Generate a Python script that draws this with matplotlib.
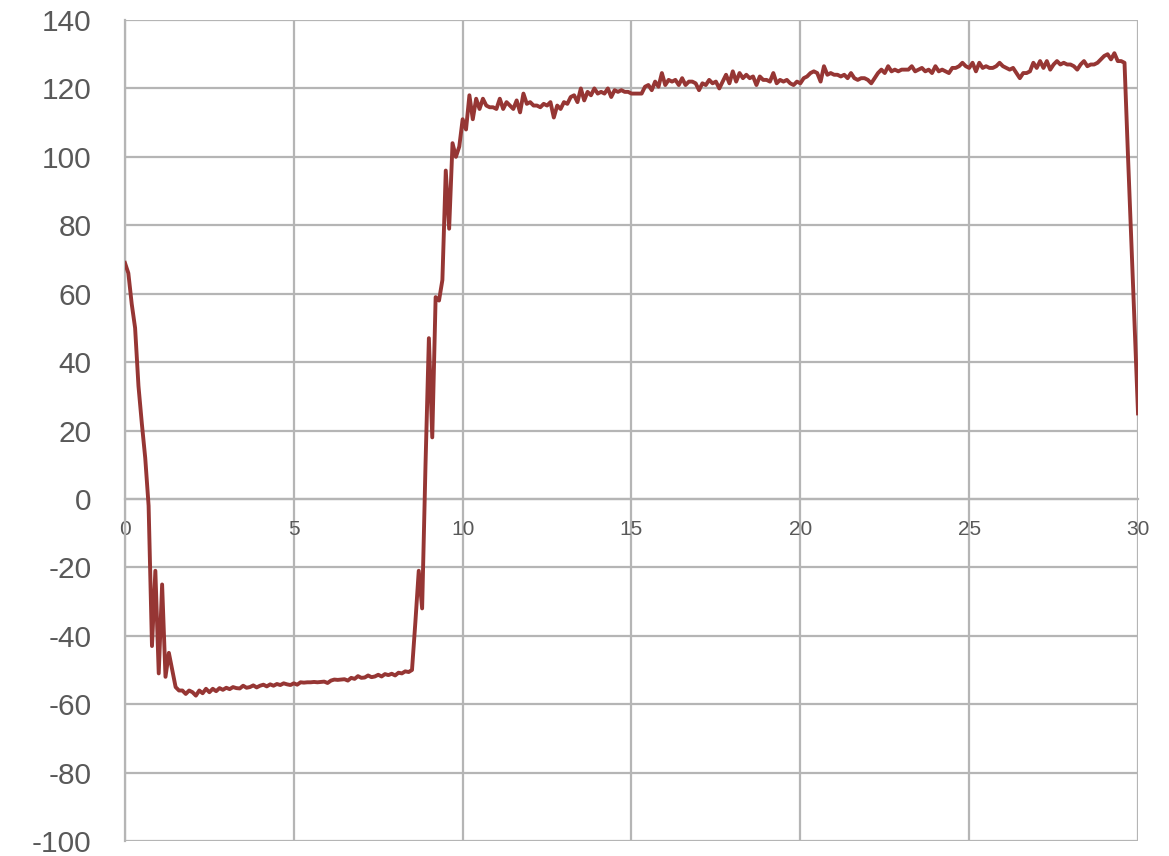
import numpy as np
import matplotlib
matplotlib.use("Agg")
import matplotlib.pyplot as plt

plt.rcParams["axes.unicode_minus"] = False

# Sampled signal, one reading every 0.1 s from 0 to 30 s
t_start, t_end, t_step = 0.0, 30.0, 0.1
signal = [
    69, 66, 57, 50, 33, 22, 12, -2, -43, -21,
    -51, -25, -52, -45, -50, -55, -56, -56, -57, -56,
    -56.5, -57.5, -56, -56.8, -55.5, -56.5, -55.5, -56.2, -55.3, -55.8,
    -55.2, -55.6, -55, -55.3, -55.4, -54.6, -55.2, -55, -54.5, -55.1,
    -54.6, -54.3, -54.8, -54.2, -54.6, -54.1, -54.4, -53.9, -54.2, -54.4,
    -53.9, -54.3, -53.6, -53.7, -53.6, -53.6, -53.5, -53.6, -53.5, -53.4,
    -53.8, -53.1, -52.8, -52.9, -52.8, -52.7, -53.1, -52.3, -52.6, -51.8,
    -52.3, -52.2, -51.6, -52.1, -51.9, -51.4, -51.9, -51.2, -51.5, -51.1,
    -51.6, -50.8, -51, -50.4, -50.6, -50, -36, -21, -32, 10,
    47, 18, 59, 58, 64, 96, 79, 104, 100, 103,
    111, 108, 118, 111, 117, 114, 117, 115, 114.5, 114.5,
    114, 117, 114, 116, 115, 114, 116.5, 113, 118.5, 115.5,
    116, 115, 115, 114.5, 115.5, 115, 116, 111.5, 115, 114,
    116, 115.5, 117.5, 118, 116, 120, 116.5, 119, 118, 120,
    118.5, 119, 118.5, 120, 117.5, 119.5, 119, 119.5, 119, 119,
    118.5, 118.5, 118.5, 118.5, 120.5, 121, 119.5, 122, 120.5, 124.5,
    121, 122.5, 122, 122.5, 121, 123, 121, 122, 122, 121.5,
    119.5, 121.5, 121, 122.5, 121.5, 122, 120, 122, 124, 121.5,
    125, 122, 124.5, 123, 124, 123, 123.5, 121, 123.5, 122.5,
    122.5, 122, 124.5, 121.5, 122.5, 122, 122.5, 121.5, 121, 122,
    121.5, 123, 123.5, 124.5, 125, 124.5, 122, 126.5, 124, 124.5,
    124, 124, 123.5, 124, 123, 124.5, 123, 122.5, 123, 123,
    122.5, 121.5, 123, 124.5, 125.5, 124.5, 126.5, 125, 125.5, 125,
    125.5, 125.5, 125.5, 126.5, 125, 125.5, 126, 125, 125.5, 124.5,
    126.5, 125, 125.5, 125, 124.5, 126, 126, 126.5, 127.5, 126.5,
    126, 127.5, 125, 127.5, 126, 126.5, 126, 126, 126.5, 127.5,
    126.5, 126, 125.5, 126, 124.5, 123, 124.5, 124.5, 125, 127.5,
    126, 128, 126, 128, 125.5, 127, 128, 127, 127.5, 127,
    127, 126.5, 125.5, 127, 128, 126.5, 127, 127, 127.5, 128.5,
    129.5, 130, 128.5, 130.3, 128, 128, 127.5, 101, 76, 50.5,
    25,
]
x_ticks = [0, 5, 10, 15, 20, 25, 30]
y_ticks = [-100, -80, -60, -40, -20, 0, 20, 40, 60, 80, 100, 120, 140]

time = t_start + t_step * np.arange(len(signal))

fig = plt.figure(figsize=(11.69, 8.56), dpi=100)
ax = fig.add_axes([0.1069, 0.0175, 0.8666, 0.9591])

grid_color = "#b5b5b5"
label_color = "#595959"

ax.plot(time, signal, color="#963634", linewidth=2.8, solid_joinstyle="round",
        zorder=3)

ax.set_xlim(t_start, t_end)
ax.set_ylim(y_ticks[0], y_ticks[-1])
ax.set_xticks(x_ticks)
ax.set_yticks(y_ticks)
ax.grid(True, color=grid_color, linewidth=1.6, zorder=0)

for side in ("top", "right"):
    ax.spines[side].set_visible(False)
ax.spines["left"].set_color(grid_color)
ax.spines["left"].set_linewidth(1.6)
ax.spines["bottom"].set_position(("data", 0))
ax.spines["bottom"].set_color(grid_color)
ax.spines["bottom"].set_linewidth(1.6)

ax.tick_params(axis="x", length=0, pad=15, labelsize=15,
               labelcolor=label_color)
ax.tick_params(axis="y", length=0, pad=24, labelsize=21.5,
               labelcolor=label_color)
for lab in ax.get_xticklabels() + ax.get_yticklabels():
    lab.set_fontfamily("Liberation Sans")

fig.savefig("out.png", dpi=100)
